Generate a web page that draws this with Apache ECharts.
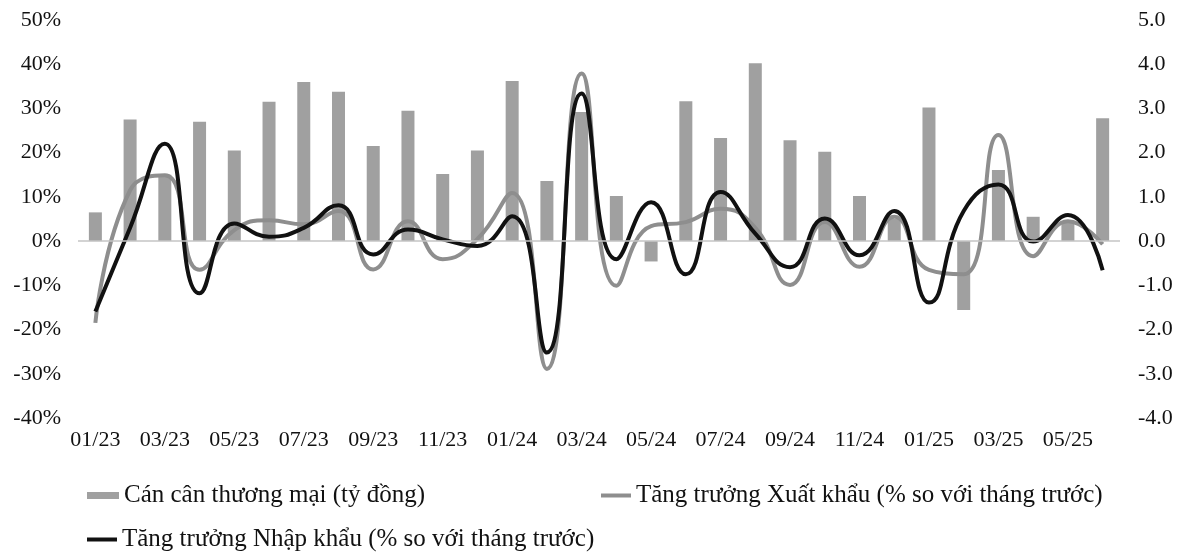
<!DOCTYPE html>
<html>
<head>
<meta charset="utf-8">
<script src="https://cdn.jsdelivr.net/npm/echarts@6/dist/echarts.min.js"></script>
<style>
html,body{margin:0;padding:0;background:#fff;}
#chart{width:1183px;height:552px;}
</style>
</head>
<body>
<div id="chart"></div>
<script>
const categories = ['01/23','02/23','03/23','04/23','05/23','06/23','07/23','08/23','09/23','10/23','11/23','12/23',
  '01/24','02/24','03/24','04/24','05/24','06/24','07/24','08/24','09/24','10/24','11/24','12/24',
  '01/25','02/25','03/25','04/25','05/25','06/25'];
const tradeBalance = [0.65,2.75,1.5,2.7,2.05,3.15,3.6,3.38,2.15,2.95,1.52,2.05,
  3.62,1.36,2.92,1.02,-0.46,3.16,2.33,4.02,2.28,2.02,1.02,0.5,
  3.02,-1.56,1.61,0.55,0.45,2.78];
const exportGrowth = [-18.5,11.5,14.9,-6.5,2.5,4.7,3.8,6.8,-6.4,4.5,-4.1,0.5,
  10.9,-28.9,37.9,-10.1,3.4,4.3,7.3,3,-9.9,4.3,-5.8,5.5,
  -6.5,-7.5,24,-3.4,4.5,-0.7];
const importGrowth = [-15.9,3,22,-11.8,4,1,3,8.1,-3,2.6,0.4,-1.1,
  5.6,-25.2,33.4,-4.1,8.8,-7.5,11.1,1.7,-5.9,5.1,-3.2,6.8,
  -13.9,6.8,12.8,-0.1,5.9,-6.6];
const seriesNames = ['Cán cân thương mại (tỷ đồng)','Tăng trưởng Xuất khẩu (% so với tháng trước)','Tăng trưởng Nhập khẩu (% so với tháng trước)'];

const FONT = '"Liberation Serif","Times New Roman",serif';
const chart = echarts.init(document.getElementById('chart'));
const legendText = {fontFamily: FONT, fontSize: 25, color: '#111'};
chart.setOption({
  animation: false,
  backgroundColor: '#fff',
  grid: {left: 78, right: 63, top: 20, bottom: 134},
  legend: [
    {data: [seriesNames[0]], left: 82, top: 478, icon: 'rect', itemWidth: 32, itemHeight: 7, textStyle: legendText},
    {data: [seriesNames[1]], left: 596, top: 478, icon: 'rect', itemWidth: 30, itemHeight: 4, textStyle: legendText},
    {data: [seriesNames[2]], left: 82, top: 522, icon: 'rect', itemWidth: 30, itemHeight: 4, textStyle: legendText}
  ],
  xAxis: {
    type: 'category',
    data: categories,
    axisLine: {show: false, onZero: false},
    axisTick: {show: false},
    axisLabel: {interval: 1, margin: 11, fontFamily: FONT, fontSize: 22, color: '#111'},
    splitLine: {show: false}
  },
  yAxis: [
    {
      type: 'value', min: -40, max: 50, interval: 10, position: 'left',
      axisLine: {show: false}, axisTick: {show: false}, splitLine: {show: false},
      axisLabel: {formatter: '{value}%', margin: 17, fontFamily: FONT, fontSize: 22, color: '#111'}
    },
    {
      type: 'value', min: -4, max: 5, interval: 1, position: 'right',
      axisLine: {show: false}, axisTick: {show: false}, splitLine: {show: false},
      axisLabel: {formatter: v => v.toFixed(1), margin: 18, fontFamily: FONT, fontSize: 22, color: '#111'}
    }
  ],
  series: [
    {
      name: seriesNames[0], type: 'bar', yAxisIndex: 1, data: tradeBalance,
      barWidth: 13, itemStyle: {color: '#a0a0a0'},
      markLine: {
        silent: true, symbol: 'none', label: {show: false},
        lineStyle: {color: '#c4c4c4', width: 1.5, type: 'solid'},
        data: [{yAxis: 0}]
      }
    },
    {
      name: seriesNames[1], type: 'line', yAxisIndex: 0, data: exportGrowth,
      smooth: 0.5, showSymbol: false, symbol: 'none',
      lineStyle: {color: '#8e8e8e', width: 4}, itemStyle: {color: '#8e8e8e'}
    },
    {
      name: seriesNames[2], type: 'line', yAxisIndex: 0, data: importGrowth,
      smooth: 0.5, showSymbol: false, symbol: 'none',
      lineStyle: {color: '#111111', width: 4}, itemStyle: {color: '#111111'}
    }
  ]
});
</script>
</body>
</html>
